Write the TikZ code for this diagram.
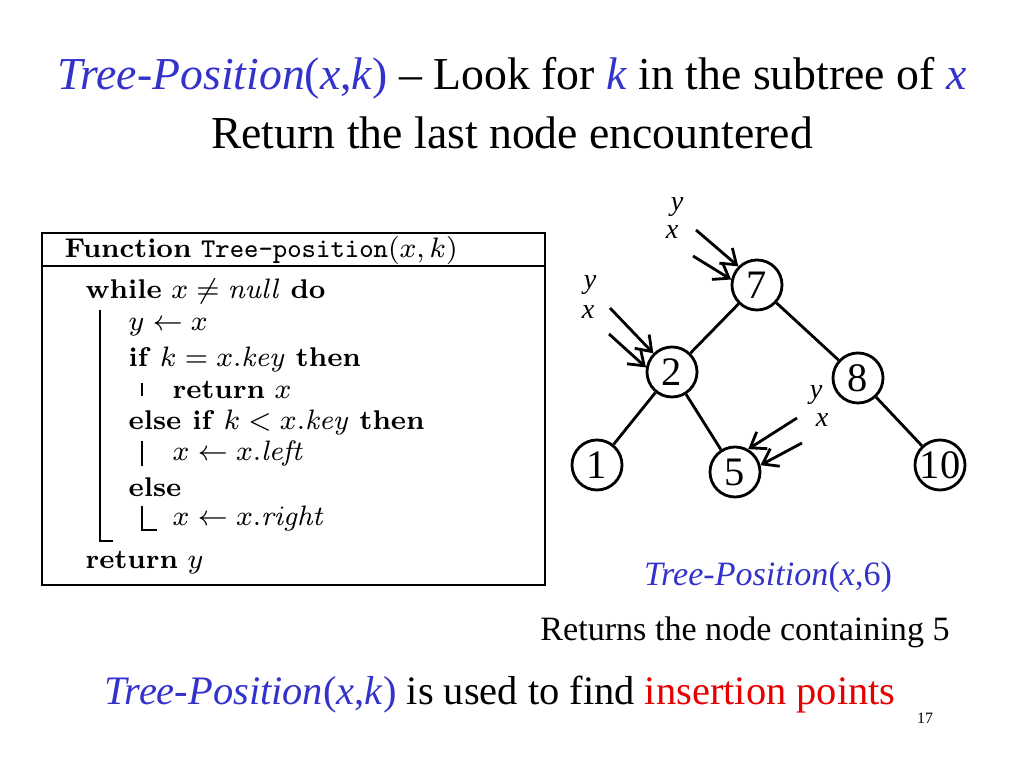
\documentclass[tikz,border=0pt]{standalone}
\usepackage{amsmath}
\usepackage[no-math]{fontspec}
\setmainfont{Liberation Serif}
\newfontfamily\lmfont{Latin Modern Roman}
\usepackage{tikz}
\usetikzlibrary{arrows.meta}
\definecolor{titleblue}{RGB}{51,51,204}
\definecolor{hotred}{RGB}{230,0,0}
\newcommand{\tpos}[1]{\textcolor{titleblue}{\textit{Tree-Position}(#1)}}
\begin{document}
\begin{tikzpicture}[x=0.01cm,y=-0.01cm,
            title/.style={font=\fontsize{13}{15}\selectfont},
            foot/.style={font=\fontsize{11.5}{13}\selectfont},
            note/.style={font=\fontsize{9.7}{11}\selectfont},
            code/.style={anchor=west, inner sep=0pt, font=\lmfont\fontsize{7.7}{9}\selectfont},
            key/.style={draw, circle, thick, minimum size=0.5cm, inner sep=0pt,
            font=\fontsize{11.5}{12}\selectfont},
            ptr/.style={font=\fontsize{8}{9}\selectfont\itshape, inner sep=0pt},
            walk/.style={thick, -{Straight Barb[length=1.4mm,width=2mm]}}]
        \useasboundingbox (0,0) rectangle (1024,768);
        % heading
        \node[title] (head1) at (512,78) {\tpos{\textit{x},\textit{k}} -- Look for \textcolor{titleblue}{\textit{k}} in the subtree of \textcolor{titleblue}{\textit{x}}};
        \node[title] (head2) at (512,133) {Return the last node encountered};

        % pseudo code
        \draw[thick] (42,233) rectangle (545,585);
        \draw[thick] (42,266) -- (545,266);
        \node[code] (fn) at (64,250) {\textbf{Function} \texttt{Tree-position}$(x,k)$};
        \node[code] (l1) at (85,291) {\textbf{while} $x \neq \mathit{null}$ \textbf{do}};
        \node[code] (l2) at (128,327) {$y \leftarrow x$};
        \node[code] (l3) at (128,359) {\textbf{if} $k = x.\mathit{key}$ \textbf{then}};
        \node[code] (l4) at (172,390) {\textbf{return} $x$};
        \node[code] (l5) at (128,422) {\textbf{else if} $k < x.\mathit{key}$ \textbf{then}};
        \node[code] (l6) at (172,453) {$x \leftarrow x.\mathit{left}$};
        \node[code] (l7) at (128,487) {\textbf{else}};
        \node[code] (l8) at (172,518) {$x \leftarrow x.\mathit{right}$};
        \node[code] (l9) at (85,563) {\textbf{return} $y$};
        \draw[thin] (100,310) -- (100,541) -- (113,541);
        \draw[thin] (142,383) -- (142,396);
        \draw[thin] (142,441) -- (142,466);
        \draw[thin] (142,506) -- (142,530) -- (157,530);

        % the tree
        \node[key] (n7) at (757,285) {7};
        \node[key] (n2) at (672,372) {2};
        \node[key] (n8) at (858,378) {8};
        \node[key] (n1) at (597,465) {1};
        \node[key] (n5) at (735,472) {5};
        \node[key] (n10) at (940,465) {10};
        \draw[thick] (n7) -- (n2);
        \draw[thick] (n7) -- (n8);
        \draw[thick] (n2) -- (n1);
        \draw[thick] (n2) -- (n5);
        \draw[thick] (n8) -- (n10);

        % search pointers
        \node[ptr] (y7) at (677,207) {y};
        \node[ptr] (x7) at (672,232) {x};
        \coordinate (y7s) at (696,230);
        \coordinate (x7s) at (693,256);
        \draw[walk] (y7s) -- (n7.135);
        \draw[walk] (x7s) -- (n7.168);
        \node[ptr] (y2) at (590,285) {y};
        \node[ptr] (x2) at (588,312) {x};
        \coordinate (y2s) at (610,308);
        \coordinate (x2s) at (609,334);
        \draw[walk] (y2s) -- (n2.135);
        \draw[walk] (x2s) -- (n2.170);
        \node[ptr] (y5) at (816,395) {y};
        \node[ptr] (x5) at (822,420) {x};
        \coordinate (y5s) at (797,418);
        \coordinate (x5s) at (802,443);
        \draw[walk] (y5s) -- (n5.60);
        \draw[walk] (x5s) -- (n5.15);

        % captions
        \node[note] (call) at (768,577) {\tpos{\textit{x},6}};
        \node[note] (result) at (745,632) {Returns the node containing 5};
        \node[foot] (bottom) at (500,695) {\tpos{\textit{x},\textit{k}} is used to find \textcolor{hotred}{insertion points}};
        \node[font=\fontsize{4.5}{5}\selectfont] (page) at (925,718) {17};
    \end{tikzpicture}
\end{document}
